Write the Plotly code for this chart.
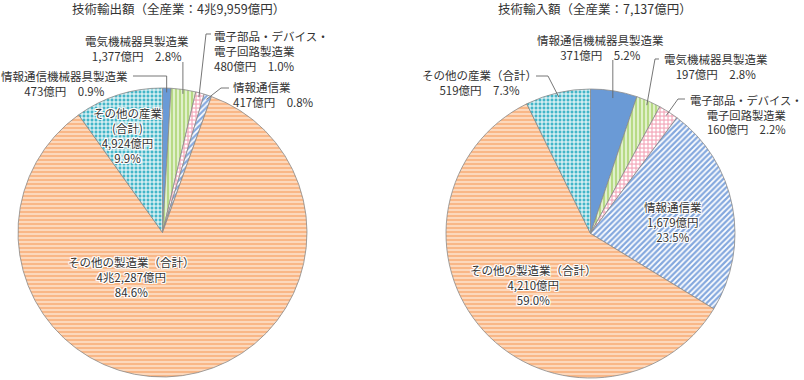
import math
import plotly.graph_objects as go

W, H = 804, 380

# ---- data ----
segments = ["情報通信機械器具製造業", "電気機械器具製造業", "電子部品・デバイス・電子回路製造業",
            "情報通信業", "その他の製造業（合計）", "その他の産業（合計）"]
export_values = [473, 1377, 480, 417, 42287, 4924]
import_values = [371, 197, 160, 1679, 4210, 519]
export_title = "技術輸出額（全産業：4兆9,959億円）"
import_title = "技術輸入額（全産業：7,137億円）"

colors = ["#6A9AD6", "#B7DA86", "#F5B3C3", "#84A8DE", "#F9B787", "#43B6C8"]
shapes_pat = ["", "|", ".", "/", "-", "+"]
fgcols = ["#6A9AD6", "#E6F3D3", "#FFFFFF", "#FFFFFF", "#FDDCC2", "#FFFFFF"]

# geometry (pixels)
R = 144.5
LC = (162.5, 232.5)
RC = (590.5, 233.5)


def px2paper(x, y):
    return x / W, 1 - y / H


def domain(c):
    x0, y0 = px2paper(c[0] - R, c[1] + R)
    x1, y1 = px2paper(c[0] + R, c[1] - R)
    return dict(x=[x0, x1], y=[y0, y1])


def edge_point(values, i, c, frac=0.97):
    tot = sum(values)
    mid = (sum(values[:i]) + values[i] / 2) / tot
    th = 2 * math.pi * mid
    return c[0] + R * frac * math.sin(th), c[1] - R * frac * math.cos(th)


fig = go.Figure()
for vals, c in [(export_values, LC), (import_values, RC)]:
    fig.add_trace(go.Pie(
        labels=segments, values=vals, sort=False, direction="clockwise", rotation=0,
        textinfo="none", hoverinfo="label+value+percent", showlegend=False,
        domain=domain(c),
        marker=dict(colors=colors, line=dict(color="#8A8A8A", width=0.8),
                    pattern=dict(shape=shapes_pat, fgcolor=fgcols, bgcolor=colors,
                                 fillmode="replace", size=4, solidity=0.45)),
    ))

FONT = "Noto Sans CJK JP, Noto Sans, sans-serif"
TXT = "#333333"
HALO = "1px 1px 0 #fff, -1px -1px 0 #fff, 1px -1px 0 #fff, -1px 1px 0 #fff, 0 1px 0 #fff, 0 -1px 0 #fff, 1px 0 0 #fff, -1px 0 0 #fff"

anns = []


def label(x, y, texts, xanchor="center", halo=False, size=11.5, align=None):
    px, py = px2paper(x, y)
    f = dict(family=FONT, size=size, color=TXT)
    if halo:
        f["shadow"] = HALO
    if align is None:
        align = "left" if xanchor == "left" else "center"
    anns.append(dict(x=px, y=py, xref="paper", yref="paper", text="<br>".join(texts),
                     showarrow=False, xanchor=xanchor, yanchor="middle", align=align,
                     font=f, borderpad=0))


# titles
label(178, 9, [export_title], size=12.5)
label(595, 9, [import_title], size=12.5)

# left pie outside labels
label(64, 83, ["情報通信機械器具製造業", "473億円　0.9%"])
label(137, 48.5, ["電気機械器具製造業", "1,377億円　2.8%"])
label(213, 50.5, ["電子部品・デバイス・", "電子回路製造業", "480億円　1.0%"], xanchor="left")
label(232, 94.5, ["情報通信業", "417億円　0.8%"], xanchor="left")
# left inside labels
label(127, 135, ["その他の産業", "(合計)", "4,924億円", "9.9%"], halo=True)
label(131, 276.5, ["その他の製造業（合計）", "4兆2,287億円", "84.6%"], halo=True)

# right pie outside labels
label(600, 47, ["情報通信機械器具製造業", "371億円　5.2%"])
label(716, 66, ["電気機械器具製造業", "197億円　2.8%"])
label(746, 114.5, ["電子部品・デバイス・", "電子回路製造業", "160億円　2.2%"], size=11.3)
label(479, 82.5, ["その他の産業（合計）", "519億円　7.3%"])
# right inside labels
label(673, 222, ["情報通信業", "1,679億円", "23.5%"], halo=True)
label(533, 284.5, ["その他の製造業（合計）", "4,210億円", "59.0%"], halo=True)

# leader lines
shapes = []


def leader(pts):
    path = ""
    for k, (x, y) in enumerate(pts):
        px, py = px2paper(x, y)
        path += ("M" if k == 0 else " L") + f" {px:.5f},{py:.5f}"
    shapes.append(dict(type="path", path=path, xref="paper", yref="paper",
                       line=dict(color="#666666", width=0.9)))


e = edge_point(export_values, 0, LC)
leader([(133, 76), (e[0], 76), e])
e = edge_point(export_values, 1, LC)
leader([(e[0], 62), e])
e = edge_point(export_values, 2, LC)
leader([(211, 34), (206, 34), e])
e = edge_point(export_values, 3, LC)
leader([(229, 88), (221, 88), e])

e = edge_point(import_values, 0, RC, 0.95)
leader([(e[0], 60), e])
e = edge_point(import_values, 1, RC)
leader([(659, 59), (655, 59), e])
e = edge_point(import_values, 2, RC)
leader([(685, 99), (678, 99), e])
e = edge_point(import_values, 5, RC)
leader([(536, 76), (548, 76), e])

fig.update_layout(width=W, height=H, margin=dict(l=0, r=0, t=0, b=0),
                  paper_bgcolor="white", plot_bgcolor="white",
                  annotations=anns, shapes=shapes)

fig.write_html("out.html", config={"displayModeBar": False},
               post_script="document.body.style.margin='0';document.body.style.overflow='hidden';")
